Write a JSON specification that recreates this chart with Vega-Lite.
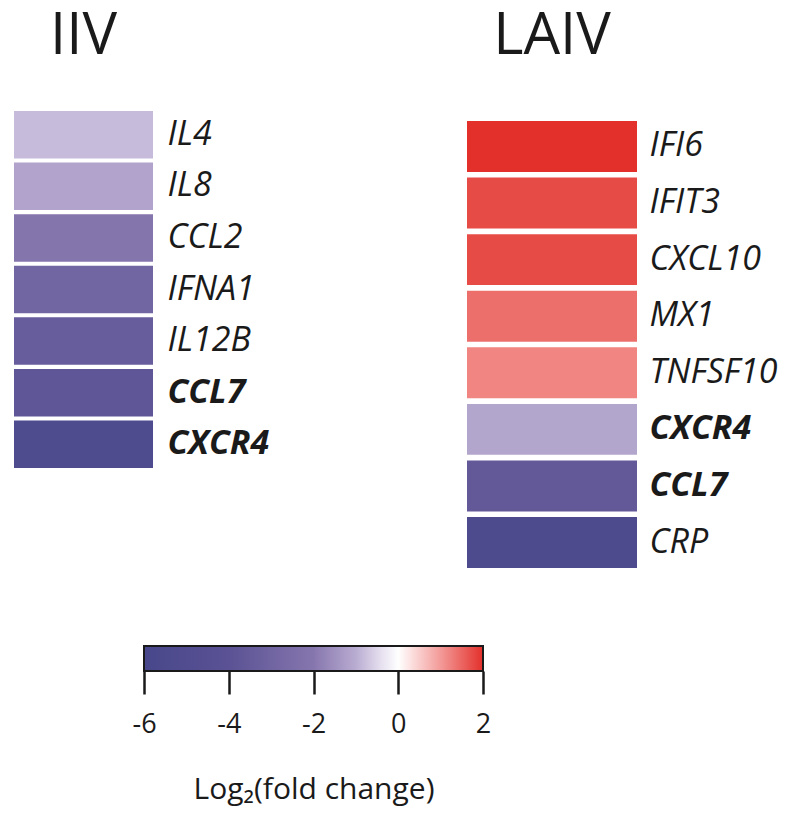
{
  "$schema": "https://vega.github.io/schema/vega-lite/v6.json",
  "padding": {"left": 14, "top": 8, "right": 5, "bottom": 5},
  "background": "white",
  "config": {"font": "Open Sans", "view": {"stroke": null}},
  "datasets": {
    "iiv": [
      {"gene": "IL4", "log2fc": -0.83},
      {"gene": "IL8", "log2fc": -1.16},
      {"gene": "CCL2", "log2fc": -2.05},
      {"gene": "IFNA1", "log2fc": -2.9},
      {"gene": "IL12B", "log2fc": -3.4},
      {"gene": "CCL7", "log2fc": -3.8},
      {"gene": "CXCR4", "log2fc": -5.3}
    ],
    "laiv": [
      {"gene": "IFI6", "log2fc": 2.0},
      {"gene": "IFIT3", "log2fc": 1.75},
      {"gene": "CXCL10", "log2fc": 1.75},
      {"gene": "MX1", "log2fc": 1.41},
      {"gene": "TNFSF10", "log2fc": 1.2},
      {"gene": "CXCR4", "log2fc": -1.12},
      {"gene": "CCL7", "log2fc": -3.6},
      {"gene": "CRP", "log2fc": -5.5}
    ],
    "scale": [{"lo": -6, "hi": 2}]
  },
  "vconcat": [
    {
      "hconcat": [
        {
          "data": {"name": "iiv"},
          "title": {"text": "IIV", "fontSize": 58, "fontWeight": "normal", "anchor": "middle", "frame": "group", "baseline": "alphabetic", "offset": -1, "color": "#1a1a1a"},
          "width": 139,
          "height": 357,
          "mark": {"type": "rect"},
          "encoding": {
            "y": {"field": "gene", "type": "nominal", "sort": null,
              "scale": {"paddingInner": 0.08, "paddingOuter": 0},
              "axis": {"orient": "right", "title": null, "domain": false, "ticks": false, "labelPadding": 14, "labelFontSize": 34, "labelFontStyle": "italic", "labelColor": "#1a1a1a",
                "labelFontWeight": {"condition": {"test": "datum.value === 'CCL7' || datum.value === 'CXCR4'", "value": "bold"}, "value": "normal"}}},
            "color": {"field": "log2fc", "type": "quantitative", "legend": null,
              "scale": {"domain": [-6, -4, -2, -1, -0.4, 0, 1, 2], "range": ["#48478b", "#5a5294", "#8676ae", "#b9acd1", "#e6e0ef", "#ffffff", "#f39a98", "#e3302b"], "interpolate": "rgb"}}
          }
        },
        {
          "data": {"name": "laiv"},
          "title": {"text": "LAIV", "fontSize": 58, "fontWeight": "normal", "anchor": "middle", "frame": "group", "baseline": "alphabetic", "offset": -1, "color": "#1a1a1a"},
          "width": 170,
          "height": 457,
          "mark": {"type": "rect"},
          "encoding": {
            "y": {"field": "gene", "type": "nominal", "sort": null,
              "scale": {"paddingInner": 0.1, "paddingOuter": 0, "range": [10, 457]},
              "axis": {"orient": "right", "title": null, "domain": false, "ticks": false, "labelPadding": 12, "labelFontSize": 34, "labelFontStyle": "italic", "labelColor": "#1a1a1a",
                "labelFontWeight": {"condition": {"test": "datum.value === 'CCL7' || datum.value === 'CXCR4'", "value": "bold"}, "value": "normal"}}},
            "color": {"field": "log2fc", "type": "quantitative", "legend": null,
              "scale": {"domain": [-6, -4, -2, -1, -0.4, 0, 1, 2], "range": ["#48478b", "#5a5294", "#8676ae", "#b9acd1", "#e6e0ef", "#ffffff", "#f39a98", "#e3302b"], "interpolate": "rgb"}}
          }
        }
      ],
      "spacing": 314,
      "bounds": "flush",
      "resolve": {"scale": {"y": "independent", "color": "independent"}}
    },
    {
      "data": {"name": "scale"},
      "width": 469,
      "height": 25,
      "mark": {"type": "rect", "stroke": "#1a1a1a", "strokeWidth": 2,
        "fill": {"gradient": "linear", "x1": 0, "y1": 0, "x2": 1, "y2": 0,
          "stops": [
            {"offset": 0, "color": "#48478b"},
            {"offset": 0.25, "color": "#5a5294"},
            {"offset": 0.5, "color": "#8676ae"},
            {"offset": 0.625, "color": "#b9acd1"},
            {"offset": 0.7, "color": "#e6e0ef"},
            {"offset": 0.75, "color": "#ffffff"},
            {"offset": 0.875, "color": "#f39a98"},
            {"offset": 1, "color": "#e3302b"}
          ]}},
      "encoding": {
        "x": {"field": "lo", "type": "quantitative",
          "scale": {"domain": [-6, 2], "range": [130, 469], "nice": false, "zero": false},
          "axis": {"values": [-6, -4, -2, 0, 2], "labelExpr": "toString(datum.value)", "domain": false, "grid": false, "tickSize": 23, "tickWidth": 2.5, "tickColor": "#1a1a1a",
            "labelFontSize": 27, "labelColor": "#1a1a1a", "labelPadding": 17, "labelFlush": false,
            "title": "Log₂(fold change)", "titleFontSize": 30, "titleFontWeight": "normal", "titleColor": "#1a1a1a", "titlePadding": 37}},
        "x2": {"field": "hi"}
      }
    }
  ],
  "spacing": 77
}
